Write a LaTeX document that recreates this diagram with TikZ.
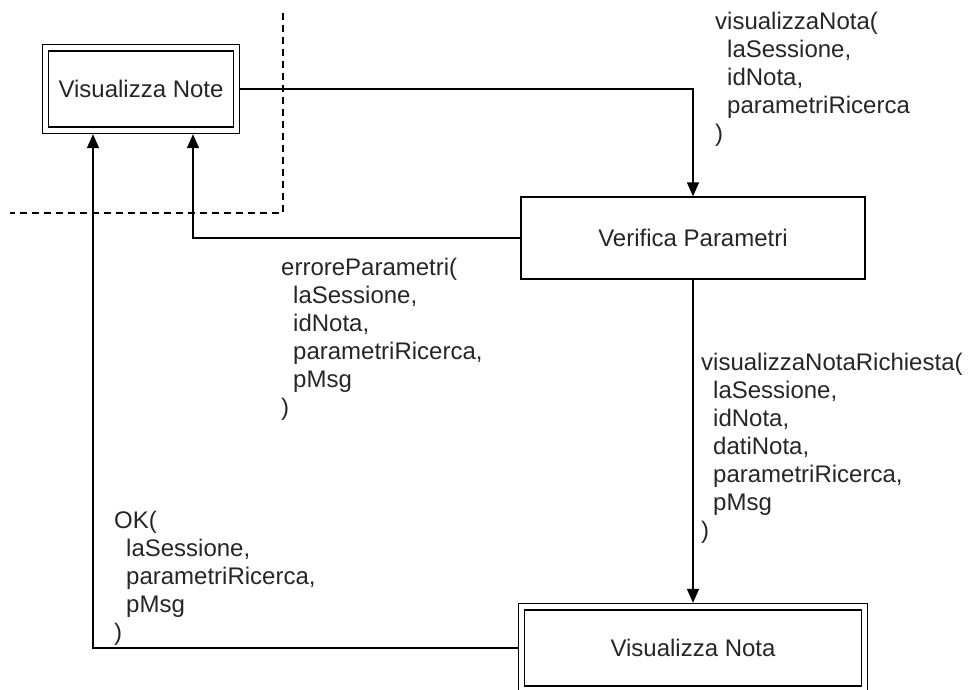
\documentclass[tikz,border=0pt]{standalone}
\usepackage{fontspec}
\setmainfont{Liberation Sans}
\usetikzlibrary{arrows.meta}
\newcommand\lblind{\hspace*{12pt}}
\begin{document}
\begin{tikzpicture}[x=1pt,y=-1pt,
  every node/.style={font=\fontsize{24}{28}\selectfont, text=black!85},
  box/.style={draw, line width=1.4pt, minimum width=344pt, minimum height=82pt, inner sep=0pt, outer sep=0.7pt},
  dbox/.style={draw, line width=1.4pt, double, double distance=5pt, inner sep=0pt, outer sep=3.9pt},
  lbl/.style={align=left, anchor=north west, inner sep=0pt},
  conn/.style={line width=1.4pt, -{Triangle[length=14pt,width=12pt]}},
  bound/.style={line width=1.3pt, dash pattern=on 7pt off 5pt}
]
\clip (0,0) rectangle (970,689);
\useasboundingbox (0,0) rectangle (970,689);

\node[dbox, minimum width=191pt, minimum height=82.5pt] (vnote) at (141,89) {Visualizza Note};
\node[box] (vp) at (693,238) {Verifica Parametri};
\node[dbox, minimum width=343pt, minimum height=82.5pt] (vnota) at (693,648) {Visualizza Nota};

\coordinate (d1) at (283,13);
\coordinate (d2) at (283,213);
\coordinate (d3) at (10,213);
\draw[bound] (d1) -- (d2) -- (d3);

\draw[conn] (vnote.east) -| (vp.north);
\draw[conn] (vp.west) -| ([xshift=52pt]vnote.south);
\draw[conn] (vp.south) -- (vnota.north);
\draw[conn] (vnota.west) -| ([xshift=-48pt]vnote.south);

\node[lbl] (l1) at (715,12) {visualizzaNota(\\\lblind laSessione,\\\lblind idNota,\\\lblind parametriRicerca\\)};
\node[lbl] (l2) at (281,258) {erroreParametri(\\\lblind laSessione,\\\lblind idNota,\\\lblind parametriRicerca,\\\lblind pMsg\\)};
\node[lbl] (l3) at (701,353) {visualizzaNotaRichiesta(\\\lblind laSessione,\\\lblind idNota,\\\lblind datiNota,\\\lblind parametriRicerca,\\\lblind pMsg\\)};
\node[lbl] (l4) at (114,511) {OK(\\\lblind laSessione,\\\lblind parametriRicerca,\\\lblind pMsg\\)};
\end{tikzpicture}
\end{document}
